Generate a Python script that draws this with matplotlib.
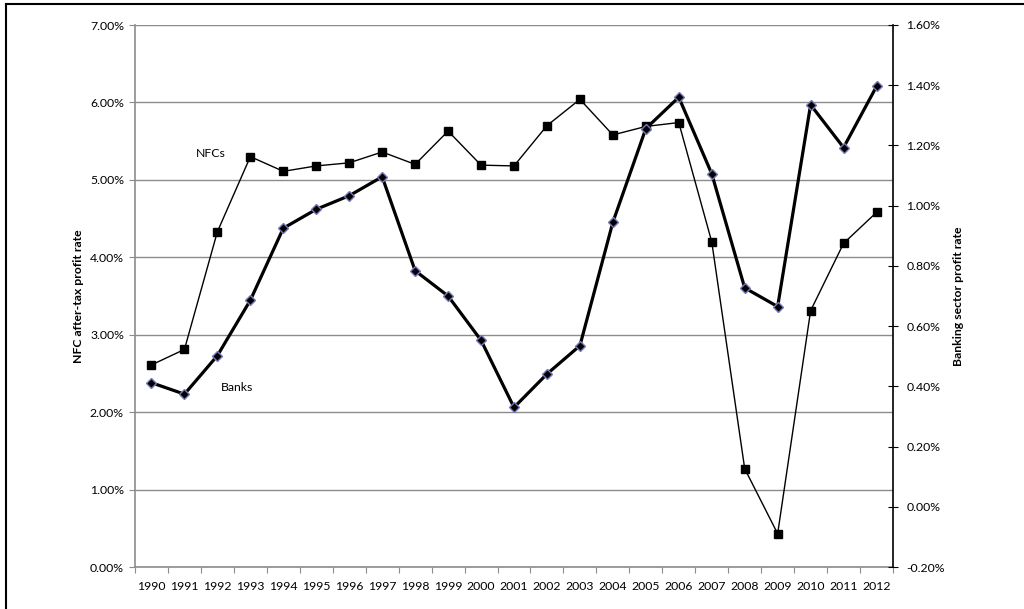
import numpy as np
import matplotlib
matplotlib.use('Agg')
import matplotlib.pyplot as plt
from matplotlib.lines import Line2D
from matplotlib.ticker import FuncFormatter

plt.rcParams['font.family'] = ['Lato', 'DejaVu Sans']

years = [str(y) for y in range(1990, 2013)]

# NFC after-tax profit rate (%), left axis
nfc = [2.61, 2.81, 4.33, 5.30, 5.11, 5.18, 5.22, 5.36, 5.20, 5.63, 5.19, 5.18,
       5.70, 6.04, 5.58, 5.69, 5.74, 4.20, 1.27, 0.43, 3.31, 4.18, 4.58]

# Banking sector profit rate (%), right axis
banks = [0.412, 0.374, 0.502, 0.686, 0.925, 0.988, 1.033, 1.096, 0.784, 0.700, 0.553, 0.330,
         0.441, 0.535, 0.945, 1.256, 1.360, 1.106, 0.727, 0.665, 1.335, 1.193, 1.396]

grey = '#8c8c8c'
fs = 8.8
pct = FuncFormatter(lambda v, p: '%.2f%%' % v)

fig = plt.figure(figsize=(10.24, 6.09), dpi=100)
ax = fig.add_axes([135 / 1024, 1 - 567 / 609, (893 - 135) / 1024, (567 - 25) / 609])
x = np.arange(len(years))

# left axis - NFCs
ax.plot(x, nfc, color='black', lw=1.0, marker='s', ms=5.5, mfc='black', mec='black', zorder=3)
ax.set_xlim(-0.5, len(years) - 0.5)
ax.set_ylim(0, 7)
ax.set_yticks(np.arange(0, 7.01, 1))
ax.yaxis.set_major_formatter(pct)
ax.grid(axis='y', color=grey, lw=1.0)
ax.set_axisbelow(True)

ax.set_xticks(np.arange(-0.5, len(years)), labels=[])
ax.set_xticks(x, labels=years, minor=True)
ax.tick_params(axis='x', which='major', length=4, color=grey, direction='out')
ax.tick_params(axis='x', which='minor', length=0, pad=10, labelsize=fs)
ax.tick_params(axis='y', length=4, color=grey, labelsize=fs, pad=4)

for side in ['top', 'right']:
    ax.spines[side].set_visible(False)
for side in ['left', 'bottom']:
    ax.spines[side].set_color(grey)
    ax.spines[side].set_linewidth(1.2)

ax.set_ylabel('NFC after-tax profit rate', fontsize=fs, fontweight='bold', labelpad=4)

# right axis - banks
ax2 = ax.twinx()
ax2.plot(x, banks, color='black', lw=2.3, marker='D', ms=5.2, mfc='black', mec='#7878b8', mew=1.0, zorder=4)
ax2.set_ylim(-0.2, 1.6)
ax2.set_yticks(np.arange(-0.2, 1.61, 0.2))
ax2.yaxis.set_major_formatter(pct)
ax2.tick_params(axis='y', length=7, direction='inout', color='black', labelsize=fs, pad=6)
for side in ['top', 'left', 'bottom']:
    ax2.spines[side].set_visible(False)
ax2.spines['right'].set_color('black')
ax2.spines['right'].set_linewidth(1.2)
ax2.set_ylabel('Banking sector profit rate', fontsize=fs, fontweight='bold', labelpad=6)

# series labels
ax.text(1.8, 5.34, 'NFCs', fontsize=fs, ha='center', va='center')
ax.text(2.6, 2.32, 'Banks', fontsize=fs, ha='center', va='center')

# chart area border (left and top edges visible)
fig.add_artist(Line2D([6 / 1024, 6 / 1024], [0, 1 - 3.5 / 609], color='black', lw=1.5, transform=fig.transFigure))
fig.add_artist(Line2D([6 / 1024, 1], [1 - 3.5 / 609, 1 - 3.5 / 609], color='black', lw=1.5, transform=fig.transFigure))

fig.savefig('out.png', dpi=100)
